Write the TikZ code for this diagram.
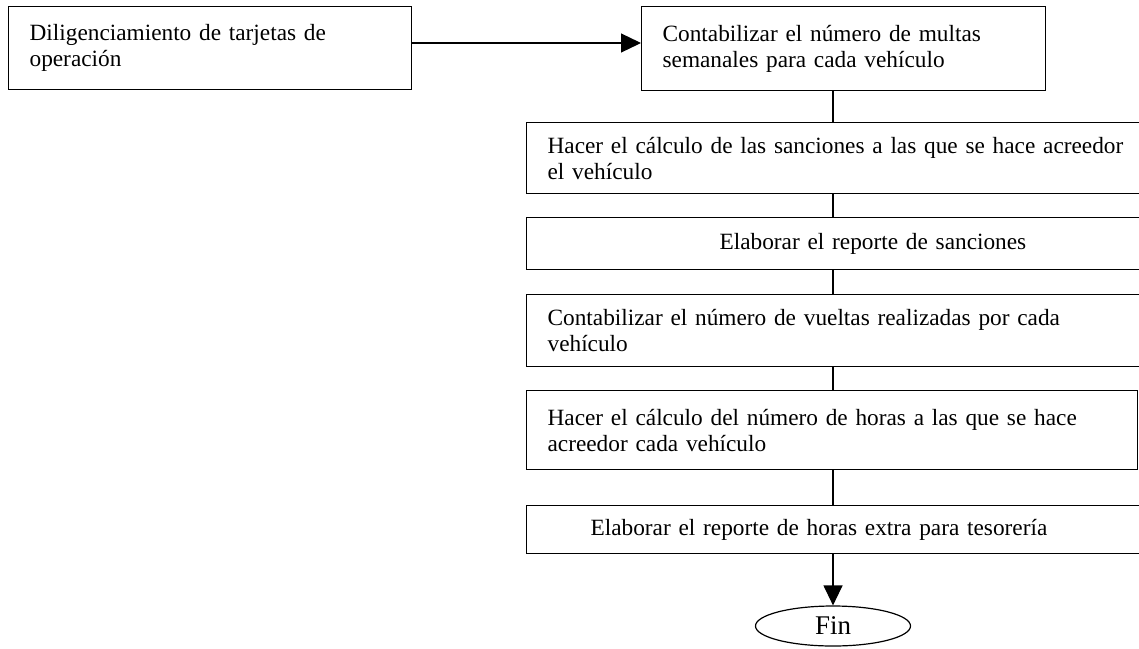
\documentclass[tikz,border=0pt]{standalone}
\usepackage{fontspec}
\setmainfont{Liberation Serif}
\usetikzlibrary{arrows.meta,shapes.geometric}
\begin{document}
\begin{tikzpicture}[x=1pt,y=-1pt,
  box/.style={draw, line width=1.2pt, rectangle, inner xsep=0pt, inner ysep=0pt,
    align=left, font=\fontsize{23.3}{26}\selectfont, anchor=north west},
  conn/.style={line width=1.2pt},
  arr/.style={line width=1.2pt, -{Triangle[length=20pt,width=19pt]}}]
\useasboundingbox (0,0) rectangle (1139,648);
\node[box, minimum width=403pt, minimum height=83pt, text width=361pt] (b1) at (8,6)
  {Diligenciamiento de tarjetas de\\operación};
\node[box, minimum width=404pt, minimum height=84pt, text width=362pt] (b2) at (641,6)
  {Contabilizar el número de multas\\semanales para cada vehículo};
\node[box, minimum width=700pt, minimum height=71pt, text width=658pt] (b3) at (526,122)
  {Hacer el cálculo de las sanciones a las que se hace acreedor\\el vehículo};
\node[box, minimum width=700pt, minimum height=52pt, text width=658pt] (b4) at (526,217)
  {\hspace*{172pt}Elaborar el reporte de sanciones};
\node[box, minimum width=700pt, minimum height=72pt, text width=658pt] (b5) at (526,294)
  {Contabilizar el número de vueltas realizadas por cada\\vehículo};
\node[box, minimum width=611pt, minimum height=79pt, text width=569pt] (b6) at (526,390)
  {Hacer el cálculo del número de horas a las que se hace\\acreedor cada vehículo};
\node[box, minimum width=700pt, minimum height=48pt, text width=658pt] (b7) at (526,505)
  {\hspace*{43pt}Elaborar el reporte de horas extra para tesorería};
\node[ellipse, draw, line width=1.2pt, minimum width=155pt, minimum height=40pt,
  inner sep=0pt, font=\fontsize{27}{30}\selectfont] (fin) at (833,626) {Fin};
\coordinate (ax) at (833,0);
\coordinate (ay) at (0,43);
\draw[arr] (b1.east |- ay) -- (b2.west |- ay);
\draw[conn] (b2.south -| ax) -- (b3.north -| ax);
\draw[conn] (b3.south -| ax) -- (b4.north -| ax);
\draw[conn] (b4.south -| ax) -- (b5.north -| ax);
\draw[conn] (b5.south -| ax) -- (b6.north -| ax);
\draw[conn] (b6.south -| ax) -- (b7.north -| ax);
\draw[arr] (b7.south -| ax) -- (fin.north);
\end{tikzpicture}
\end{document}
